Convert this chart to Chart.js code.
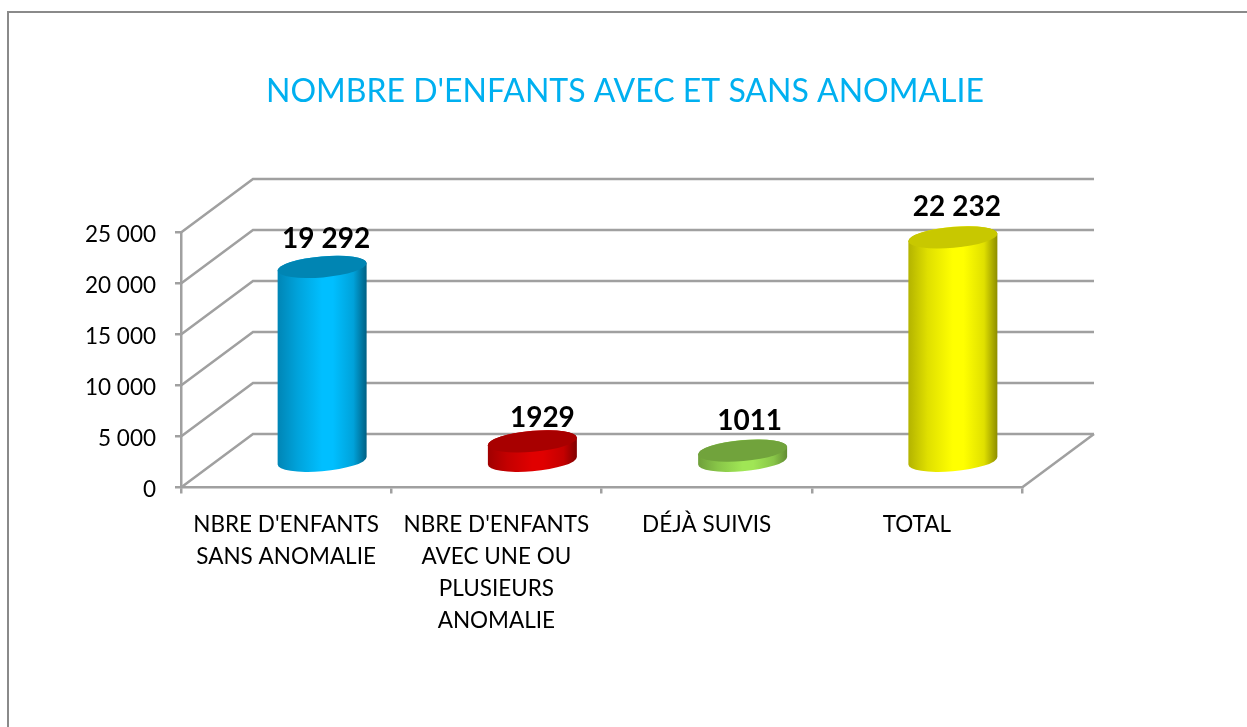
<!DOCTYPE html>
<html>
<head>
<meta charset="utf-8">
<title>Nombre d'enfants</title>
<script src="https://cdn.jsdelivr.net/npm/chart.js@4/dist/chart.umd.min.js"></script>
<style>
  html, body { margin: 0; padding: 0; background: #fff; overflow: hidden; }
  canvas { display: block; }
</style>
</head>
<body>
<canvas id="chart" width="1247" height="727"></canvas>
<script>
const titleText = "NOMBRE D'ENFANTS AVEC ET SANS ANOMALIE";
const categories = [
  ["NBRE D'ENFANTS", "SANS ANOMALIE"],
  ["NBRE D'ENFANTS", "AVEC UNE OU", "PLUSIEURS", "ANOMALIE"],
  ["DÉJÀ SUIVIS"],
  ["TOTAL"]
];
const values = [19292, 1929, 1011, 22232];
const valueLabels = ["19 292", "1929", "1011", "22 232"];
const yMax = 25000;
const yStep = 5000;

// [left edge, shoulder, centre, right edge, top cap]
const barColors = [
  ["#0085b5", "#00a2da", "#00bfff", "#005f82", "#0085b3"],
  ["#a00000", "#c40000", "#e00000", "#800000", "#a80000"],
  ["#6f9f3a", "#88c548", "#a0e655", "#628c33", "#71a33c"],
  ["#b3b300", "#e0e000", "#ffff00", "#8c8c00", "#c8c800"]
];
// label position relative to the cylinder top
const labelNudge = [[4, -28], [10, -23], [7, -30], [4, -30]];

const DEPTH_X = 72, DEPTH_Y = 53.5;
const LINE = "#a0a0a0";
const FONT = 'Lato, "Open Sans", sans-serif';

function drawCylinder(ctx, bar, colors, top, base) {
  const cx = bar.x + DEPTH_X / 2;
  const rx = bar.width / 2 + 0.5, ry = 10.5, rot = -5 * Math.PI / 180;
  const t0 = Math.atan(-(ry / rx) * Math.tan(rot));
  const g = ctx.createLinearGradient(cx - rx, 0, cx + rx, 0);
  g.addColorStop(0, colors[0]);
  g.addColorStop(0.22, colors[1]);
  g.addColorStop(0.5, colors[2]);
  g.addColorStop(0.62, colors[2]);
  g.addColorStop(0.85, colors[1]);
  g.addColorStop(1, colors[3]);
  ctx.fillStyle = g;
  ctx.beginPath();
  ctx.ellipse(cx, base, rx, ry, rot, t0, t0 + Math.PI, false);
  ctx.ellipse(cx, top, rx, ry, rot, t0 + Math.PI, t0 + 2 * Math.PI, false);
  ctx.closePath();
  ctx.fill();
  ctx.fillStyle = colors[4];
  ctx.beginPath();
  ctx.ellipse(cx, top, rx, ry, rot, 0, 2 * Math.PI);
  ctx.fill();
}

const scene3d = {
  id: 'scene3d',
  afterLayout(chart) {
    // the right padding is only room for the 3D depth, keep the title centred on the page
    chart.titleBlock.left = 3;
    chart.titleBlock.right = chart.width;
  },
  beforeDraw(chart) {
    const ctx = chart.ctx;
    ctx.save();
    ctx.fillStyle = '#fff';
    ctx.fillRect(0, 0, chart.width, chart.height);
    // page frame, cut by the picture on the right and bottom
    ctx.strokeStyle = '#8a8a8a';
    ctx.lineWidth = 2;
    ctx.beginPath();
    ctx.moveTo(8, chart.height);
    ctx.lineTo(8, 12);
    ctx.lineTo(chart.width, 12);
    ctx.stroke();
    ctx.restore();
    // y labels sit a little lower than the ticks
    chart.scales.y.getLabelItems(chart.chartArea).forEach(item => {
      item.options.translation[1] += 2;
    });
  },
  beforeDatasetsDraw(chart) {
    const ctx = chart.ctx, y = chart.scales.y, a = chart.chartArea;
    ctx.save();
    ctx.strokeStyle = LINE;
    ctx.lineWidth = 2.5;
    y.ticks.forEach(t => {
      const py = y.getPixelForValue(t.value);
      ctx.beginPath();
      ctx.moveTo(a.left, py);
      ctx.lineTo(a.left + DEPTH_X, py - DEPTH_Y);
      ctx.lineTo(a.right + DEPTH_X, py - DEPTH_Y);
      ctx.stroke();
    });
    // floor right edge
    ctx.beginPath();
    ctx.moveTo(a.right, a.bottom);
    ctx.lineTo(a.right + DEPTH_X, a.bottom - DEPTH_Y);
    ctx.stroke();
    ctx.restore();
  },
  beforeDatasetDraw() {
    return false; // bars are painted as cylinders below
  },
  afterDatasetsDraw(chart) {
    const ctx = chart.ctx, y = chart.scales.y;
    const base = chart.chartArea.bottom - DEPTH_Y / 2;
    chart.getDatasetMeta(0).data.forEach((bar, i) => {
      const h = (y.getPixelForValue(0) - bar.y) * 0.985;
      drawCylinder(ctx, bar, barColors[i], base - h, base);
      ctx.save();
      ctx.fillStyle = '#000';
      ctx.font = 'bold 28px ' + FONT;
      ctx.textAlign = 'center';
      ctx.textBaseline = 'middle';
      ctx.fillText(valueLabels[i], bar.x + DEPTH_X / 2 + labelNudge[i][0], base - h + labelNudge[i][1]);
      ctx.restore();
    });
  }
};

new Chart(document.getElementById('chart'), {
  type: 'bar',
  plugins: [scene3d],
  data: {
    labels: categories,
    datasets: [{
      data: values,
      backgroundColor: barColors.map(c => c[2]),
      barPercentage: 0.42,
      categoryPercentage: 1
    }]
  },
  options: {
    responsive: false,
    animation: false,
    layout: { padding: { left: 0, right: 225, top: 72, bottom: 0 } },
    plugins: {
      legend: { display: false },
      tooltip: { enabled: false },
      title: {
        display: true,
        text: titleText,
        color: '#00b0f0',
        font: { family: FONT, size: 32, weight: 'normal' },
        padding: { top: 0, bottom: 122.1 }
      }
    },
    scales: {
      x: {
        afterFit(scale) { scale.height = 239.5; },
        grid: { drawOnChartArea: false, drawTicks: true, tickLength: 6, color: LINE, lineWidth: 2.5 },
        border: { color: LINE, width: 2.5 },
        ticks: {
          color: '#000',
          maxRotation: 0,
          autoSkip: false,
          padding: 15,
          font: { family: FONT, size: 22.5, lineHeight: 32 / 22.5 }
        }
      },
      y: {
        min: 0,
        max: yMax,
        afterFit(scale) { scale.width = 181; },
        grid: { drawOnChartArea: false, drawTicks: true, tickLength: 6, color: LINE, lineWidth: 2.5 },
        border: { color: LINE, width: 2.5 },
        ticks: {
          stepSize: yStep,
          color: '#000',
          padding: 19,
          font: { family: FONT, size: 22.5 },
          callback: v => v === 0 ? '0' : String(v).replace(/(\d)(\d{3})$/, '$1 $2')
        }
      }
    }
  }
});
</script>
</body>
</html>
